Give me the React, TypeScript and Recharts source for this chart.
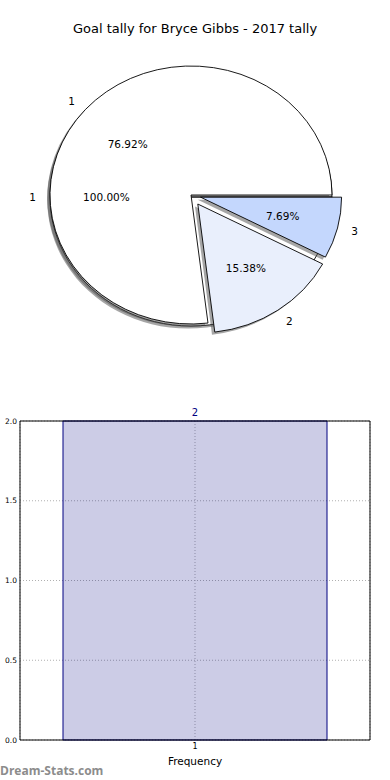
import { PieChart, Pie, Cell, BarChart, Bar, XAxis, YAxis, CartesianGrid, LabelList } from 'recharts';

// pie data
const sliceNames = ['1', '2', '3'];
const sliceValues = [10, 2, 1];
const sliceColors = ['#ffffff', '#e9effc', '#c4d7fd'];
const sliceExplode = [0, 0.085, 0.07];

const fullNames = ['1'];
const fullValues = [1];

// histogram data
const barCategories = ['1'];
const barValues = [2];
const yTicks = [0, 0.5, 1, 1.5, 2];

const FONT = '"DejaVu Sans", sans-serif';
const CX = 191;
const CY = 195;
const R = 135;
const RX = 141; // matplotlib pie comes out slightly elliptical
const RY = 129;
const RAD = Math.PI / 180;
const SHADOW = [-2.8, 2.6];
const FULL_DY = 2;

const sliceData = sliceNames.map((name, i) => ({ name, value: sliceValues[i] }));
const fullData = fullNames.map((name, i) => ({ name, value: fullValues[i] }));
const barData = barCategories.map((name, i) => ({ name, value: barValues[i] }));

// mid angles from the values, to place exploded wedges
const total = sliceValues.reduce((a, b) => a + b, 0);
const midAngles = sliceValues.map((v, i) => {
    const before = sliceValues.slice(0, i).reduce((a, b) => a + b, 0);
    return ((before + v / 2) / total) * 360;
});

const offsetFor = (mid: number, k: number) => [k * RX * Math.cos(mid * RAD), -k * RY * Math.sin(mid * RAD)];

const squash = (cy: number, dx: number, dy: number) =>
    `translate(${CX + dx},${cy + dy}) scale(${RX / R},${RY / R}) translate(${-CX},${-cy})`;

const makeLabel = (explode: number[]) => (p: any) => {
    const [ox, oy] = offsetFor(p.midAngle, explode[p.index] || 0);
    const cos = Math.cos(p.midAngle * RAD);
    const sin = -Math.sin(p.midAngle * RAD);
    const x0 = p.cx + ox;
    const y0 = p.cy + oy;
    return (
        <g key={`lbl-${p.index}`}>
            <text
                x={x0 + 1.1 * RX * cos}
                y={y0 + 1.1 * RY * sin}
                textAnchor={cos > 0 ? 'start' : 'end'}
                dominantBaseline="central"
                fontSize={10.5}
                fontFamily={FONT}
                fill="#000"
            >
                {p.name}
            </text>
            <text
                x={x0 + 0.6 * RX * cos}
                y={y0 + 0.6 * RY * sin}
                textAnchor="middle"
                dominantBaseline="central"
                fontSize={10.5}
                fontFamily={FONT}
                fill="#000"
            >
                {(p.percent * 100).toFixed(2)}%
            </text>
        </g>
    );
};

export default function App() {
    const fullCy = CY + FULL_DY;
    return (
        <div style={{ position: 'absolute', left: 0, top: 0, width: 390, height: 780, background: '#fff', fontFamily: FONT }}>
            <div style={{ position: 'absolute', top: 21, left: 0, width: 390, textAlign: 'center', fontSize: 13, color: '#000' }}>
                Goal tally for Bryce Gibbs - 2017 tally
            </div>

            <div style={{ position: 'absolute', top: 0, left: 0 }}>
                <PieChart width={390} height={380} margin={{ top: 0, right: 0, bottom: 0, left: 0 }}>
                    {/* the single 100% wedge underneath */}
                    <Pie data={fullData} dataKey="value" nameKey="name" cx={CX} cy={fullCy} outerRadius={R}
                        startAngle={0} endAngle={360} stroke="none" isAnimationActive={false}>
                        {fullData.map((d) => (
                            <Cell key={`fs-${d.name}`} fill="#4d4d4d" fillOpacity={0.5} transform={squash(fullCy, SHADOW[0], SHADOW[1])} />
                        ))}
                    </Pie>
                    <Pie data={fullData} dataKey="value" nameKey="name" cx={CX} cy={fullCy} outerRadius={R}
                        startAngle={0} endAngle={360} stroke="#000" strokeWidth={0.9} isAnimationActive={false}>
                        {fullData.map((d) => (
                            <Cell key={`f-${d.name}`} fill="#ffffff" transform={squash(fullCy, 0, 0)} />
                        ))}
                    </Pie>

                    {/* shadows of the tally wedges */}
                    <Pie data={sliceData} dataKey="value" nameKey="name" cx={CX} cy={CY} outerRadius={R}
                        startAngle={0} endAngle={360} stroke="none" isAnimationActive={false}>
                        {sliceData.map((d, i) => {
                            const [ox, oy] = offsetFor(midAngles[i], sliceExplode[i]);
                            return <Cell key={`ss-${d.name}`} fill="#4d4d4d" fillOpacity={0.5} transform={squash(CY, ox + SHADOW[0], oy + SHADOW[1])} />;
                        })}
                    </Pie>
                    <Pie data={sliceData} dataKey="value" nameKey="name" cx={CX} cy={CY} outerRadius={R}
                        startAngle={0} endAngle={360} stroke="#000" strokeWidth={0.9}
                        label={makeLabel(sliceExplode)} labelLine={false} isAnimationActive={false}>
                        {sliceData.map((d, i) => {
                            const [ox, oy] = offsetFor(midAngles[i], sliceExplode[i]);
                            return <Cell key={`s-${d.name}`} fill={sliceColors[i]} transform={squash(CY, ox, oy)} />;
                        })}
                    </Pie>

                    {/* labels of the 100% wedge sit on top of everything */}
                    <Pie data={fullData} dataKey="value" nameKey="name" cx={CX} cy={fullCy} outerRadius={R}
                        startAngle={0} endAngle={360} fill="none" stroke="none"
                        label={makeLabel([0])} labelLine={false} isAnimationActive={false} />
                </PieChart>
            </div>

            <div style={{ position: 'absolute', top: 400, left: 0 }}>
                <BarChart width={390} height={380} data={barData} margin={{ top: 20, right: 19, left: 0, bottom: 0 }} barCategoryGap={43}>
                    <CartesianGrid stroke="#b0b0b0" strokeDasharray="1 2" />
                    <XAxis
                        dataKey="name"
                        height={40}
                        tickLine={false}
                        tickSize={0}
                        tickMargin={3}
                        axisLine={{ stroke: '#000' }}
                        tick={{ fontSize: 8, fill: '#000', fontFamily: FONT }}
                        label={{ value: 'Frequency', position: 'insideBottom', offset: 15, fontSize: 10.5, fill: '#000', fontFamily: FONT }}
                    />
                    <YAxis
                        width={20}
                        domain={[0, 2]}
                        ticks={yTicks}
                        tickFormatter={(v) => Number(v).toFixed(1)}
                        tickLine={false}
                        tickSize={0}
                        tickMargin={3}
                        axisLine={{ stroke: '#000' }}
                        tick={{ fontSize: 7.5, fill: '#000', fontFamily: FONT }}
                    />
                    <XAxis xAxisId="top" orientation="top" dataKey="name" height={1} tick={false} tickLine={false} axisLine={{ stroke: '#000' }} />
                    <YAxis yAxisId="right" orientation="right" width={1} domain={[0, 2]} tick={false} tickLine={false} axisLine={{ stroke: '#000' }} />
                    <Bar dataKey="value" fill="navy" fillOpacity={0.2} stroke="navy" strokeWidth={1} isAnimationActive={false}>
                        <LabelList dataKey="value" position="top" offset={5} fill="navy" fontSize={10} fontFamily={FONT} />
                    </Bar>
                </BarChart>
            </div>

            <div style={{ position: 'absolute', left: 0, top: 762, fontSize: 12, fontWeight: 'bold', color: '#8c8c8c', fontFamily: '"Open Sans", sans-serif' }}>
                Dream-Stats.com
            </div>
        </div>
    );
}
